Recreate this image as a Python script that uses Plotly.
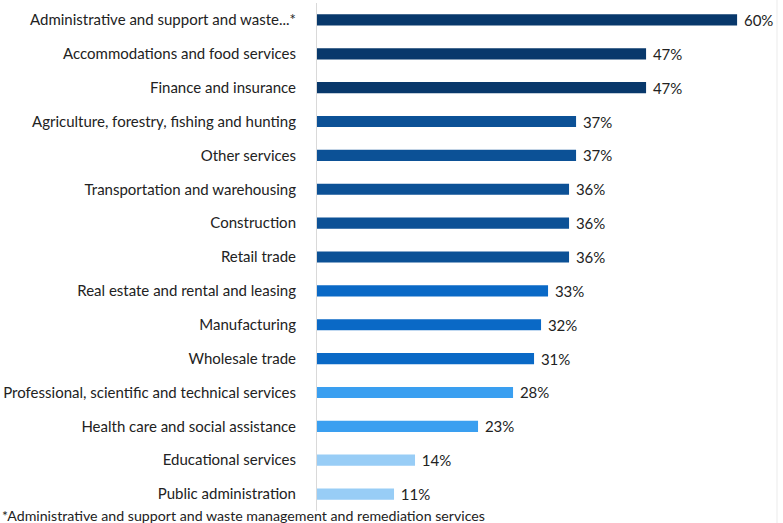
import plotly.graph_objects as go

categories = [
    "Administrative and support and waste...*",
    "Accommodations and food services",
    "Finance and insurance",
    "Agriculture, forestry, fishing and hunting",
    "Other services",
    "Transportation and warehousing",
    "Construction",
    "Retail trade",
    "Real estate and rental and leasing",
    "Manufacturing",
    "Wholesale trade",
    "Professional, scientific and technical services",
    "Health care and social assistance",
    "Educational services",
    "Public administration",
]
values = [60, 47, 47, 37, 37, 36, 36, 36, 33, 32, 31, 28, 23, 14, 11]
colors = (["#08386b"] * 3 + ["#0c5196"] * 5 + ["#0a69c6"] * 3
          + ["#3a9ff0"] * 2 + ["#98cdf6"] * 2)
footnote = "*Administrative and support and waste management and remediation services"

fig = go.Figure(go.Bar(
    x=values, y=categories, orientation="h",
    marker=dict(color=colors, line=dict(width=0)),
    width=0.33,
    text=[f" {v}%" for v in values], textposition="outside",
    textfont=dict(size=15, color="#222222"),
    constraintext="none",
    cliponaxis=False,
))
fig.update_layout(
    width=783, height=523,
    margin=dict(l=317, r=6, t=3, b=12, autoexpand=False),
    paper_bgcolor="white", plot_bgcolor="white",
    font=dict(family="Lato", size=15, color="#222222"),
    showlegend=False,
    xaxis=dict(range=[0, 65.7], visible=False, automargin=False),
    yaxis=dict(autorange="reversed", showline=True, linecolor="#d9d9d9",
               linewidth=1, ticks="", ticklabelstandoff=17, automargin=False,
               tickfont=dict(size=15, color="#222222")),
    shapes=[dict(type="line", xref="paper", yref="paper", x0=1, x1=1,
                 y0=-0.05, y1=1.05, line=dict(color="#ebebeb", width=1))],
    annotations=[dict(text=footnote, xref="paper", yref="paper",
                      x=-317/460, y=0, yshift=-4, xanchor="left",
                      yanchor="middle", showarrow=False,
                      font=dict(size=14.2, color="#222222"))],
)
fig.write_html("out.html", config={"displayModeBar": False},
               post_script="document.body.style.margin='0';")
